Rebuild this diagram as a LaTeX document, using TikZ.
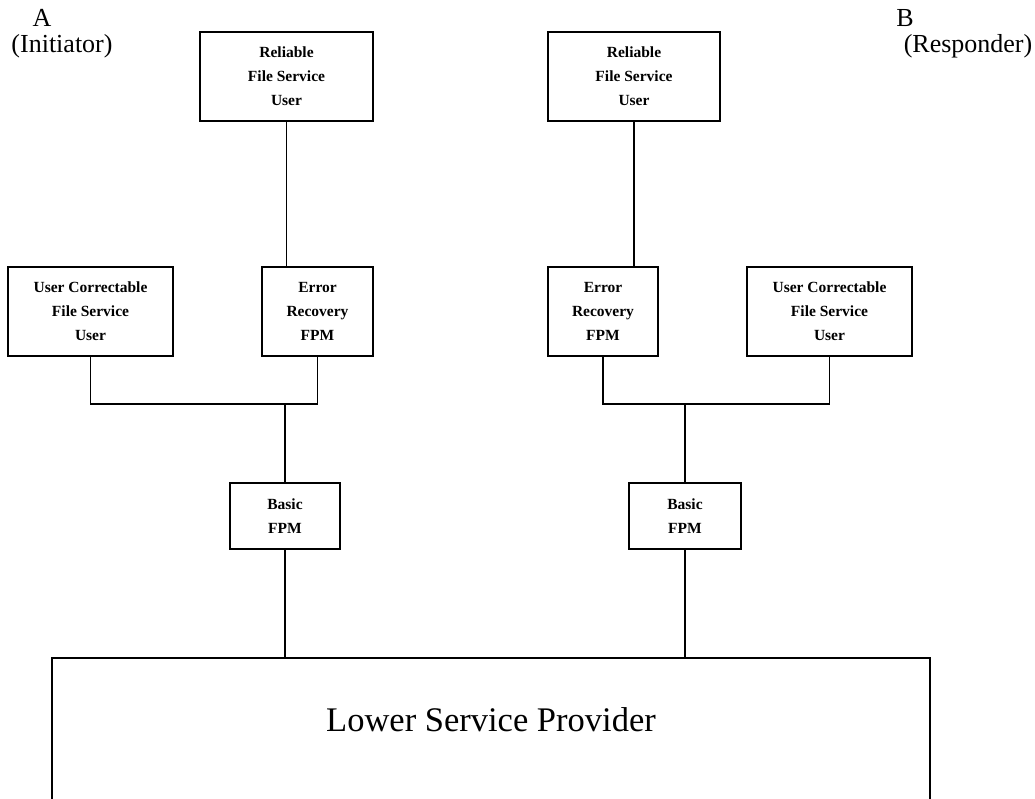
\documentclass[tikz,border=0pt]{standalone}
\usepackage{fontspec}
\setmainfont{Liberation Serif}
\begin{document}
\begin{tikzpicture}[x=1pt,y=-1pt,
  box/.style={draw, line width=1.3pt, inner sep=0pt, align=center,
    font=\fontsize{15.5}{24}\selectfont\bfseries},
  wire/.style={line width=1.2pt},
  side/.style={inner sep=0pt, font=\fontsize{26}{28}\selectfont}]
\useasboundingbox (0,0) rectangle (1035,798);
\clip (0,0) rectangle (1035,798);

% end-system labels
\node[side] (a)  at (42,18)  {A};
\node[side] (ai) at (62,46)  {(Initiator)};
\node[side] (b)  at (905,18) {B};
\node[side] (bi) at (968,46) {(Responder)};

% service users
\node[box, minimum width=173pt, minimum height=89pt] (tl) at (286.5,76.5) {Reliable\\File Service\\User};
\node[box, minimum width=172pt, minimum height=89pt] (tr) at (634,76.5) {Reliable\\File Service\\User};
\node[box, minimum width=165pt, minimum height=89pt] (ucl) at (90.5,311.5) {User Correctable\\File Service\\User};
\node[box, minimum width=111pt, minimum height=89pt] (erl) at (317.5,311.5) {Error\\Recovery\\FPM};
\node[box, minimum width=110pt, minimum height=89pt] (err) at (603,311.5) {Error\\Recovery\\FPM};
\node[box, minimum width=165pt, minimum height=89pt] (ucr) at (829.5,311.5) {User Correctable\\File Service\\User};

% basic FPMs
\node[box, minimum width=110pt, minimum height=66pt] (bfl) at (285,516) {Basic\\FPM};
\node[box, minimum width=112pt, minimum height=66pt] (bfr) at (685,516) {Basic\\FPM};

% lower service provider (continues below the frame)
\draw[line width=1.3pt] (52,860) -- (52,658) coordinate (lspl) -- (930,658) coordinate (lspr) -- (930,860);
\node[inner sep=0pt, font=\fontsize{34.5}{36}\selectfont] (lsp) at (491,720) {Lower Service Provider};

% connections
\coordinate (busl) at (0,404);
\coordinate (busr) at (0,404);
\draw[wire] (tl.south) -- (tl.south |- erl.north);
\draw[wire] (tr.south) -- (tr.south |- err.north);
\draw[wire] (ucl.south) -- (ucl.south |- busl) -- (erl.south |- busl) -- (erl.south);
\draw[wire] (err.south) -- (err.south |- busr) -- (ucr.south |- busr) -- (ucr.south);
\draw[wire] (bfl.north |- busl) -- (bfl.north);
\draw[wire] (bfr.north |- busr) -- (bfr.north);
\draw[wire] (bfl.south) -- (bfl.south |- lspl);
\draw[wire] (bfr.south) -- (bfr.south |- lspl);
\end{tikzpicture}
\end{document}
